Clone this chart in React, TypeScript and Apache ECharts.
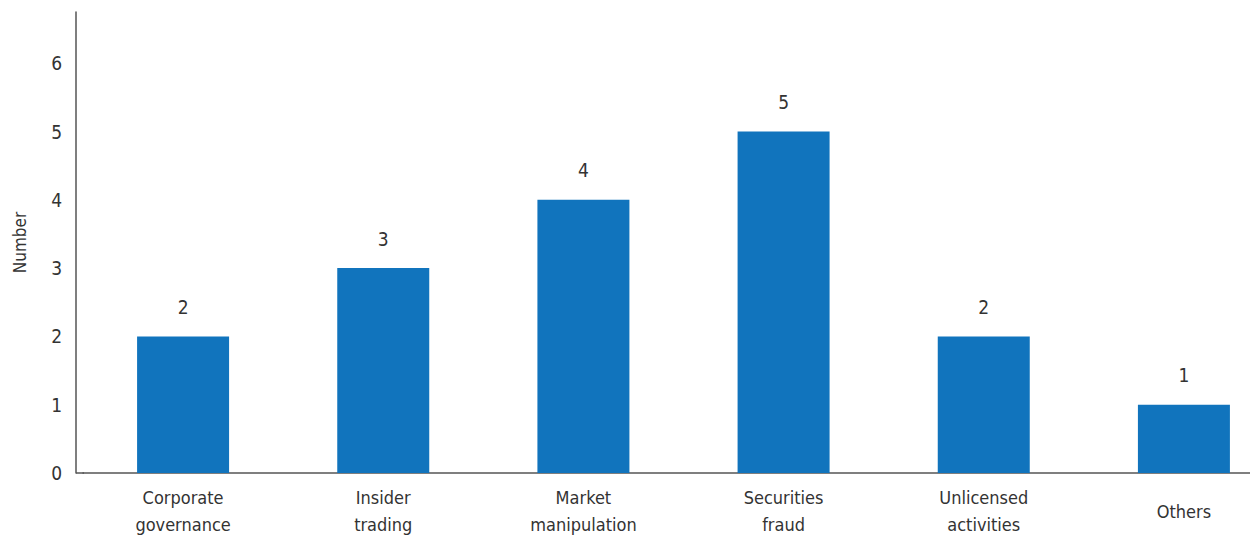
import React, { useEffect, useRef } from "react";
import * as echarts from "echarts";

const categories = [
  "Corporate\ngovernance",
  "Insider\ntrading",
  "Market\nmanipulation",
  "Securities\nfraud",
  "Unlicensed\nactivities",
  "Others",
];
const values = [2, 3, 4, 5, 2, 1];
const yTicks = [0, 1, 2, 3, 4, 5, 6];

const FONT = "'DejaVu Sans Condensed', 'Liberation Sans Narrow', 'Noto Sans', sans-serif";

export default function App() {
  const ref = useRef<HTMLDivElement>(null);
  useEffect(() => {
    if (!ref.current) return;
    const chart = echarts.init(ref.current, undefined, { renderer: "svg" });
    chart.setOption({
      animation: false,
      textStyle: { fontFamily: FONT },
      grid: {
        left: 83,
        right: 16,
        top: 12,
        bottom: 63,
        containLabel: false,
        outerBoundsMode: "none",
      },
      xAxis: {
        type: "category",
        data: categories,
        axisLine: { show: true, lineStyle: { color: "#555", width: 1.5 } },
        axisTick: { show: false },
        axisLabel: {
          color: "#333",
          fontSize: 18,
          fontFamily: FONT,
          lineHeight: 27,
          verticalAlign: "middle",
          margin: 38,
          interval: 0,
        },
      },
      yAxis: {
        type: "value",
        min: 0,
        max: 6.75,
        interval: 1,
        offset: 7,
        name: "Number",
        nameLocation: "middle",
        nameGap: 48,
        nameTextStyle: { color: "#333", fontSize: 17, fontFamily: FONT },
        axisLine: { show: true, lineStyle: { color: "#555", width: 1.5 } },
        axisTick: { show: false },
        splitLine: { show: false },
        axisLabel: {
          color: "#333",
          fontSize: 19,
          fontFamily: FONT,
          margin: 14,
          showMaxLabel: false,
          formatter: (v: number) => (yTicks.includes(v) ? String(v) : ""),
        },
      },
      graphic: [
        {
          type: "line",
          shape: { x1: 76, y1: 473, x2: 84, y2: 473 },
          style: { stroke: "#555", lineWidth: 1.5 },
        },
      ],
      series: [
        {
          type: "bar",
          data: values,
          barWidth: 92,
          itemStyle: { color: "#1174bd" },
          label: {
            show: true,
            position: "top",
            distance: 20,
            color: "#333",
            fontSize: 19,
            fontFamily: FONT,
          },
        },
      ],
    });
    return () => chart.dispose();
  }, []);
  return (
    <div
      style={{
        position: "absolute",
        left: 0,
        top: 0,
        width: 1250,
        height: 536,
        overflow: "hidden",
      }}
    >
      <div ref={ref} style={{ width: 1300, height: 536 }} />
    </div>
  );
}
